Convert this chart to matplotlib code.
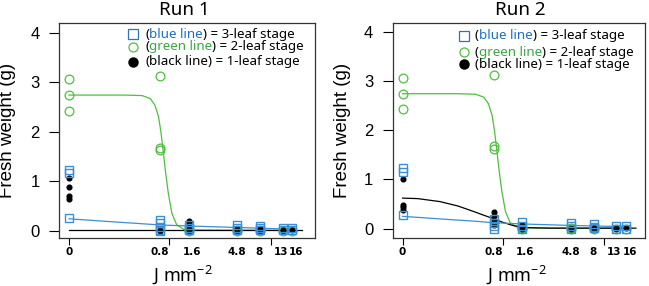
import numpy as np
import matplotlib
matplotlib.use('Agg')
import matplotlib.pyplot as plt
from matplotlib.offsetbox import TextArea, HPacker, AnchoredOffsetbox
import matplotlib.transforms as mtransforms

plt.rcParams['font.family'] = ['Liberation Sans', 'DejaVu Sans']
plt.rcParams['mathtext.fontset'] = 'custom'
plt.rcParams['mathtext.rm'] = 'Noto Sans'

################################################################################
# Datos
dosis = [0, 0.8, 1.6, 4.8, 8, 13, 16]
etiquetas = ['0', '0.8', '1.6', '4.8', '8', '13', '16']

# Run 1
azul1_x = [0, 0, 0, 0.8, 0.8, 0.8, 0.8, 0.8, 1.6, 1.6, 1.6, 4.8, 4.8, 4.8, 8, 8, 8, 13, 13, 16, 16]
azul1_y = [1.22, 1.16, 0.26, 0.22, 0.15, 0.08, 0.02, 0.0, 0.12, 0.06, 0.01, 0.12, 0.06, 0.02,
           0.10, 0.05, 0.02, 0.05, 0.01, 0.05, 0.01]
verde1_x = [0, 0, 0, 0.8, 0.8, 0.8, 1.6, 1.6, 4.8, 4.8, 8, 8, 13, 16]
verde1_y = [3.06, 2.74, 2.42, 3.13, 1.68, 1.62, 0.01, 0.0, 0.02, 0.0, 0.01, 0.0, 0.0, 0.0]
negro1_x = [0, 0, 0, 0, 0.8, 0.8, 1.6, 1.6, 1.6, 1.6, 4.8, 4.8, 8, 8, 13, 13, 16]
negro1_y = [1.06, 0.89, 0.70, 0.63, 0.02, 0.0, 0.20, 0.15, 0.04, 0.0, 0.03, 0.0, 0.03, 0.0, 0.01, 0.0, 0.01]

# Run 2
azul2_x = [0, 0, 0, 0.8, 0.8, 0.8, 0.8, 1.6, 1.6, 1.6, 4.8, 4.8, 4.8, 8, 8, 8, 13, 13, 16, 16]
azul2_y = [1.23, 1.16, 0.27, 0.20, 0.12, 0.05, 0.0, 0.13, 0.06, 0.0, 0.12, 0.05, 0.0,
           0.10, 0.04, 0.01, 0.05, 0.0, 0.05, 0.0]
verde2_x = verde1_x
verde2_y = verde1_y
negro2_x = [0, 0, 0, 0, 0.8, 0.8, 0.8, 0.8, 1.6, 1.6, 1.6, 4.8, 4.8, 8, 8, 13, 13, 16]
negro2_y = [1.01, 0.49, 0.43, 0.37, 0.33, 0.26, 0.15, 0.07, 0.07, 0.03, 0.0, 0.02, 0.0, 0.02, 0.0, 0.01, 0.0, 0.02]

# Curvas ajustadas
cverde_x = [0, 0.3, 0.5, 0.62, 0.70, 0.77, 0.82, 0.87, 0.92, 0.98, 1.07, 1.2, 1.41, 1.6, 4.8, 16]
cverde_y = [2.74, 2.74, 2.73, 2.67, 2.54, 2.30, 1.97, 1.56, 1.16, 0.76, 0.35, 0.12, 0.03, 0.015, 0.01, 0.01]
cazul1_x = [0, 0.2, 0.5, 0.8, 1.6, 4.8, 16]
cazul1_y = [0.24, 0.18, 0.14, 0.115, 0.095, 0.064, 0.03]
cnegro1_x = [0, 20]
cnegro1_y = [0.005, 0.005]
cazul2_x = [0, 0.2, 0.5, 0.8, 1.6, 4.8, 16]
cazul2_y = [0.25, 0.19, 0.15, 0.12, 0.095, 0.065, 0.04]
cnegro2_x = [0, 0.05, 0.16, 0.3, 0.47, 0.65, 0.8, 1.0, 1.3, 1.8, 3, 20]
cnegro2_y = [0.62, 0.61, 0.55, 0.46, 0.35, 0.26, 0.2, 0.13, 0.06, 0.02, 0.01, 0.01]
################################################################################

AZUL = '#3a8fd8'
AZUL_TXT = '#1f6fc8'
VERDE = '#4cc13c'
VERDE_TXT = '#3aa844'
FUENTE = 'Noto Sans'
C = 0.13  # escala log(x + c)
desplaza = [0, 0, 3, 0, -1, -2, 4]  # ajuste de las etiquetas (px)

def fwd(x):
  return np.log(np.maximum(np.asarray(x, dtype=float) + C, 1e-9) / C)

def inv(t):
  return C * (np.exp(t) - 1)

fig = plt.figure(figsize=(6.49, 2.86), dpi=100)
ax1 = fig.add_axes([0.0909, 0.1668, 0.3945, 0.7517])
ax2 = fig.add_axes([0.6051, 0.1668, 0.3888, 0.7517])

paneles = [
  (ax1, 'Run 1', azul1_x, azul1_y, verde1_x, verde1_y, negro1_x, negro1_y,
   cazul1_x, cazul1_y, cnegro1_x, cnegro1_y, (-0.0253, 26.3), (-0.154, 4.19),
   (0.29, 0.336, [0.950, 0.891, 0.821]), 0.49, 0.484),
  (ax2, 'Run 2', azul2_x, azul2_y, verde2_x, verde2_y, negro2_x, negro2_y,
   cazul2_x, cazul2_y, cnegro2_x, cnegro2_y, (-0.025, 24.4), (-0.196, 4.17),
   (0.283, 0.326, [0.942, 0.865, 0.809]), 0.505, 0.491),
]

for (ax, titulo, ax_, ay_, vx, vy, nx, ny, cax, cay, cnx, cny, xl, yl, leg, xt, xlab) in paneles:
  ax.set_xscale('function', functions=(fwd, inv))
  # curvas
  ax.plot(cverde_x, cverde_y, color=VERDE, lw=0.9)
  ax.plot(cnx, cny, color='black', lw=0.9)
  ax.plot(cax, cay, color=AZUL, lw=0.9)
  # puntos
  ax.plot(vx, vy, 'o', ms=6.3, mfc='none', mec=VERDE, mew=0.9, ls='none')
  ax.plot(nx, ny, 'o', ms=3.4, color='black', ls='none')
  ax.plot(ax_, ay_, 's', ms=6.3, mfc='none', mec=AZUL, mew=1.0, ls='none')

  ax.set_xlim(*xl)
  ax.set_ylim(*yl)
  ax.set_yticks([0, 1, 2, 3, 4])
  ax.tick_params(axis='y', length=7, width=0.8, pad=7, labelsize=12)
  ax.set_xticks([0, 1, 10])
  ax.set_xticklabels([])
  ax.tick_params(axis='x', length=5, width=0.8)
  ax.minorticks_off()
  for s in ax.spines.values():
    s.set_linewidth(0.9)
    s.set_color('#333333')

  ax.set_ylabel('Fresh weight (g)', fontsize=13.5)
  ax.yaxis.set_label_coords(-0.166, 0.5)

  trans = mtransforms.blended_transform_factory(ax.transData, ax.transAxes)
  for d, e, dd in zip(dosis, etiquetas, desplaza):
    t = trans + mtransforms.ScaledTranslation(dd / 100, 0, fig.dpi_scale_trans)
    ax.text(d, -0.065, e, transform=t, ha='center', va='center',
            fontsize=7.5, fontweight='bold', family='DejaVu Sans')

  ax.text(xlab, -0.171, r'J mm$^{\mathregular{-2}}$', transform=ax.transAxes,
          ha='center', va='center', fontsize=13, family=FUENTE)
  ax.text(xt, 1.062, titulo, transform=ax.transAxes, ha='center', va='center',
          fontsize=13.5, family=FUENTE)

  # leyenda hecha a mano
  mx, tx, filas = leg
  ax.plot([mx], [filas[0]], 's', ms=6.5, mfc='none', mec='#2e75b6', mew=0.9,
          transform=ax.transAxes, clip_on=False)
  ax.plot([mx], [filas[1]], 'o', ms=6.5, mfc='none', mec=VERDE, mew=0.9,
          transform=ax.transAxes, clip_on=False)
  ax.plot([mx], [filas[2]], 'o', ms=6.5, color='black',
          transform=ax.transAxes, clip_on=False)
  textos = [
    [('(', 'black'), ('blue line', AZUL_TXT), (') = 3-leaf stage', 'black')],
    [('(', 'black'), ('green line', VERDE_TXT), (') = 2-leaf stage', 'black')],
    [('(', 'black'), ('black line', 'black'), (') = 1-leaf stage', 'black')],
  ]
  for fila, y in zip(textos, filas):
    partes = [TextArea(s, textprops=dict(color=c, fontsize=9.6, family=FUENTE))
              for s, c in fila]
    caja = HPacker(children=partes, align='baseline', pad=0, sep=0)
    anc = AnchoredOffsetbox(loc='center left', child=caja, pad=0, borderpad=0,
                            frameon=False, bbox_to_anchor=(tx, y),
                            bbox_transform=ax.transAxes)
    ax.add_artist(anc)

fig.savefig('out.png', dpi=100)
